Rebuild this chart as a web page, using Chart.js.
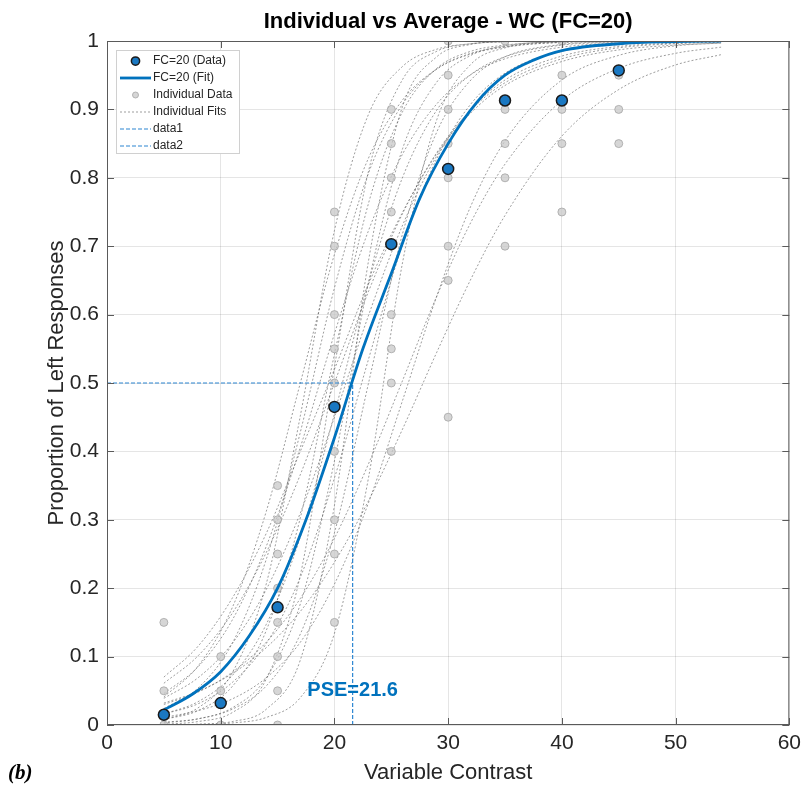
<!DOCTYPE html>
<html>
<head>
<meta charset="utf-8">
<script src="https://cdn.jsdelivr.net/npm/chart.js@4.4.1/dist/chart.umd.min.js"></script>
<style>
  html, body { margin: 0; padding: 0; background: #fff; }
  #wrap { position: relative; width: 807px; height: 792px; }
  #tag { position: absolute; left: 8px; top: 760px; font: italic bold 21px "Liberation Serif", serif; color: #000; }
</style>
</head>
<body>
<div id="wrap">
  <canvas id="chartJSContainer" width="807" height="792"></canvas>
  <div id="tag">(b)</div>
</div>
<script>
// labels and ticks
var titleText = 'Individual vs Average - WC (FC=20)';
var xLabel = 'Variable Contrast';
var yLabel = 'Proportion of Left Responses';
var xTicks = [0, 10, 20, 30, 40, 50, 60];
var yTicks = [0, 0.1, 0.2, 0.3, 0.4, 0.5, 0.6, 0.7, 0.8, 0.9, 1];

// group average (FC=20)
var levels = [5, 10, 15, 20, 25, 30, 35, 40, 45];
var meanProp = [0.015, 0.032, 0.172, 0.465, 0.703, 0.813, 0.913, 0.913, 0.957];

// individual proportions at each level
var indivProp = [
  [0, 0.05, 0.15],
  [0, 0.05, 0.1],
  [0, 0.05, 0.1, 0.15, 0.2, 0.25, 0.3, 0.35],
  [0.15, 0.25, 0.3, 0.4, 0.5, 0.55, 0.6, 0.7, 0.75],
  [0.4, 0.5, 0.55, 0.6, 0.7, 0.75, 0.8, 0.85, 0.9],
  [0.45, 0.65, 0.7, 0.8, 0.85, 0.9, 0.95, 1],
  [0.7, 0.8, 0.85, 0.9, 1],
  [0.75, 0.85, 0.9, 0.95, 1],
  [0.85, 0.9, 0.95, 1]
];

// average fit
var fitX = [5, 7.5, 10, 12.5, 15, 17.5, 20, 22.5, 25, 27.5, 30, 32.5, 35, 37.5, 40, 45, 50, 54];
var fitY = [0.022, 0.045, 0.078, 0.13, 0.2, 0.3, 0.42, 0.55, 0.66, 0.77, 0.85, 0.91, 0.95, 0.972, 0.986, 0.996, 0.999, 1];
var pse = 21.6;

// individual fits, read at the same x positions
var indivFitX = [5, 8, 11, 14, 17, 20, 23, 26, 29, 32, 35, 40, 45, 50, 54];
var indivFits = [
  [0.008, 0.025, 0.076, 0.206, 0.452, 0.723, 0.893, 0.963, 0.988, 0.996, 0.999, 1, 1, 1, 1],
  [0.024, 0.054, 0.119, 0.242, 0.428, 0.639, 0.807, 0.908, 0.959, 0.982, 0.992, 0.998, 1, 1, 1],
  [0.046, 0.085, 0.153, 0.261, 0.406, 0.572, 0.723, 0.835, 0.908, 0.951, 0.974, 0.991, 0.997, 0.999, 1],
  [0.008, 0.021, 0.056, 0.138, 0.303, 0.542, 0.763, 0.897, 0.96, 0.985, 0.994, 0.999, 1, 1, 1],
  [0.061, 0.101, 0.163, 0.252, 0.366, 0.5, 0.634, 0.748, 0.837, 0.899, 0.939, 0.974, 0.99, 0.996, 0.998],
  [0.016, 0.034, 0.072, 0.147, 0.275, 0.455, 0.647, 0.801, 0.899, 0.951, 0.977, 0.994, 0.998, 1, 1],
  [0.003, 0.009, 0.025, 0.069, 0.177, 0.386, 0.647, 0.843, 0.94, 0.979, 0.993, 0.999, 1, 1, 1],
  [0.016, 0.031, 0.062, 0.119, 0.216, 0.361, 0.535, 0.703, 0.828, 0.908, 0.953, 0.985, 0.995, 0.999, 1],
  [0.07, 0.115, 0.185, 0.28, 0.4, 0.52, 0.645, 0.75, 0.835, 0.895, 0.935, 0.97, 0.987, 0.994, 0.997],
  [0.004, 0.009, 0.023, 0.057, 0.133, 0.281, 0.5, 0.719, 0.867, 0.943, 0.977, 0.995, 0.999, 1, 1],
  [0, 0.001, 0.003, 0.011, 0.04, 0.134, 0.362, 0.677, 0.885, 0.966, 0.99, 0.999, 1, 1, 1],
  [0.03, 0.048, 0.077, 0.121, 0.185, 0.273, 0.382, 0.504, 0.627, 0.735, 0.82, 0.913, 0.96, 0.982, 0.991],
  [0.032, 0.049, 0.075, 0.113, 0.166, 0.238, 0.328, 0.433, 0.545, 0.652, 0.745, 0.861, 0.929, 0.965, 0.98],
  [0.011, 0.021, 0.038, 0.069, 0.121, 0.206, 0.325, 0.475, 0.627, 0.759, 0.854, 0.943, 0.979, 0.993, 0.997],
  [0.041, 0.086, 0.171, 0.312, 0.5, 0.688, 0.829, 0.914, 0.959, 0.981, 0.991, 0.998, 0.999, 1, 1],
  [0.039, 0.069, 0.119, 0.198, 0.31, 0.45, 0.599, 0.731, 0.832, 0.9, 0.943, 0.978, 0.992, 0.997, 0.999],
  [0, 0.001, 0.005, 0.023, 0.095, 0.321, 0.679, 0.905, 0.977, 0.995, 0.999, 1, 1, 1, 1],
  [0.001, 0.005, 0.018, 0.067, 0.219, 0.523, 0.81, 0.944, 0.985, 0.996, 0.999, 1, 1, 1, 1]
];

var blue = '#0072BD';
var pseBlue = '#2c86d2';
var ink = '#262626';

function pts(xs, ys) {
  return xs.map(function (x, i) { return { x: x, y: ys[i] }; });
}

var indivPts = [];
levels.forEach(function (lv, i) {
  indivProp[i].forEach(function (p) { indivPts.push({ x: lv, y: p }); });
});

var datasets = [
  {
    label: 'FC=20 (Data)',
    data: pts(levels, meanProp),
    pointRadius: 5.5,
    pointBackgroundColor: '#1a78c2',
    pointBorderColor: '#1a1a1a',
    pointBorderWidth: 1.5,
    showLine: false
  },
  {
    label: 'FC=20 (Fit)',
    data: pts(fitX, fitY),
    showLine: true,
    borderColor: blue,
    borderWidth: 2.8,
    pointRadius: 0,
    cubicInterpolationMode: 'monotone'
  },
  {
    label: 'data1',
    data: [{ x: 0, y: 0.5 }, { x: pse, y: 0.5 }],
    showLine: true,
    borderColor: pseBlue,
    borderWidth: 1.2,
    borderDash: [4, 2],
    pointRadius: 0
  },
  {
    label: 'data2',
    data: [{ x: pse, y: 0 }, { x: pse, y: 0.5 }],
    showLine: true,
    borderColor: pseBlue,
    borderWidth: 1.2,
    borderDash: [4, 2],
    pointRadius: 0
  },
  {
    label: 'Individual Data',
    data: indivPts,
    pointRadius: 4,
    pointBackgroundColor: 'rgba(200,200,200,0.75)',
    pointBorderColor: 'rgba(165,165,165,0.8)',
    pointBorderWidth: 1,
    showLine: false
  }
];
indivFits.forEach(function (ys) {
  datasets.push({
    label: 'Individual Fits',
    data: pts(indivFitX, ys),
    showLine: true,
    borderColor: 'rgba(90,90,90,0.75)',
    borderWidth: 0.8,
    borderDash: [2, 2],
    pointRadius: 0,
    cubicInterpolationMode: 'monotone'
  });
});

var legendLabels = ['FC=20 (Data)', 'FC=20 (Fit)', 'Individual Data', 'Individual Fits', 'data1', 'data2'];

var frame = {
  id: 'frame',
  afterDraw: function (chart) {
    var c = chart.ctx, a = chart.chartArea, xs = chart.scales.x, ys = chart.scales.y;
    c.save();
    // axes box and inward ticks
    c.strokeStyle = '#5a5a5a';
    c.lineWidth = 1;
    c.strokeRect(a.left + 0.5, a.top + 0.5, a.right - a.left - 1, a.bottom - a.top - 1);
    c.beginPath();
    xTicks.forEach(function (v) {
      var p = Math.round(xs.getPixelForValue(v)) + 0.5;
      c.moveTo(p, a.bottom); c.lineTo(p, a.bottom - 7);
      c.moveTo(p, a.top); c.lineTo(p, a.top + 7);
    });
    yTicks.forEach(function (v) {
      var p = Math.round(ys.getPixelForValue(v)) + 0.5;
      c.moveTo(a.left, p); c.lineTo(a.left + 7, p);
      c.moveTo(a.right, p); c.lineTo(a.right - 7, p);
    });
    c.stroke();

    // title
    c.fillStyle = '#000';
    c.font = 'bold 22px "Liberation Sans", Arial, sans-serif';
    c.textAlign = 'center';
    c.textBaseline = 'middle';
    c.fillText(titleText, (a.left + a.right) / 2, 22);

    // PSE label
    c.fillStyle = blue;
    c.font = 'bold 20px "Liberation Sans", Arial, sans-serif';
    c.fillText('PSE=' + pse, xs.getPixelForValue(pse), ys.getPixelForValue(0.05));

    // legend
    var x0 = a.left + 9, y0 = a.top + 9, w = 123, h = 103, row = 17;
    c.fillStyle = '#fff';
    c.fillRect(x0, y0, w, h);
    c.strokeStyle = '#d0d0d0';
    c.strokeRect(x0 + 0.5, y0 + 0.5, w, h);
    c.font = '12px "Liberation Sans", Arial, sans-serif';
    c.textAlign = 'left';
    legendLabels.forEach(function (lab, i) {
      var ds = chart.data.datasets.find(function (d) { return d.label === lab; });
      var cy = y0 + 11 + i * row;
      var lx0 = x0 + 4, lx1 = x0 + 35, mx = (lx0 + lx1) / 2;
      if (ds.showLine) {
        c.save();
        c.strokeStyle = ds.borderColor;
        c.lineWidth = ds.borderWidth;
        c.setLineDash(ds.borderDash || []);
        c.beginPath(); c.moveTo(lx0, cy); c.lineTo(lx1, cy); c.stroke();
        c.restore();
      } else {
        c.beginPath();
        c.arc(mx, cy, ds.pointRadius * 0.75, 0, Math.PI * 2);
        c.fillStyle = ds.pointBackgroundColor; c.fill();
        c.lineWidth = ds.pointBorderWidth; c.strokeStyle = ds.pointBorderColor; c.stroke();
      }
      c.fillStyle = ink;
      c.textBaseline = 'middle';
      c.fillText(lab, x0 + 37, cy);
    });
    c.restore();
  }
};

var options = {
  type: 'scatter',
  data: { datasets: datasets },
  options: {
    responsive: false,
    animation: false,
    layout: { padding: { left: 0, top: 41, right: 15, bottom: 0 } },
    plugins: {
      legend: { display: false },
      tooltip: { enabled: false },
      title: { display: false }
    },
    scales: {
      x: {
        type: 'linear', min: 0, max: 60,
        afterBuildTicks: function (s) { s.ticks = xTicks.map(function (v) { return { value: v }; }); },
        afterFit: function (s) { s.height = 67; },
        grid: { color: 'rgba(38,38,38,0.12)', drawTicks: false },
        border: { display: false },
        ticks: { color: ink, font: { size: 21 }, padding: 6 },
        title: { display: true, text: xLabel, color: ink, font: { size: 22 }, padding: { top: 0, bottom: 6 } }
      },
      y: {
        type: 'linear', min: 0, max: 1,
        afterBuildTicks: function (s) { s.ticks = yTicks.map(function (v) { return { value: v }; }); },
        afterFit: function (s) { s.width = 107; },
        grid: { color: 'rgba(38,38,38,0.12)', drawTicks: false },
        border: { display: false },
        ticks: {
          color: ink, font: { size: 21 }, padding: 8,
          callback: function (v) { return String(Math.round(v * 10) / 10); }
        },
        title: { display: true, text: yLabel, color: ink, font: { size: 22 }, padding: { top: 44, bottom: 0 } }
      }
    }
  },
  plugins: [frame]
};

Chart.defaults.font.family = '"Liberation Sans", Arial, sans-serif';
var ctx = document.getElementById('chartJSContainer');
var myChart = new Chart(ctx, options);
</script>
</body>
</html>
